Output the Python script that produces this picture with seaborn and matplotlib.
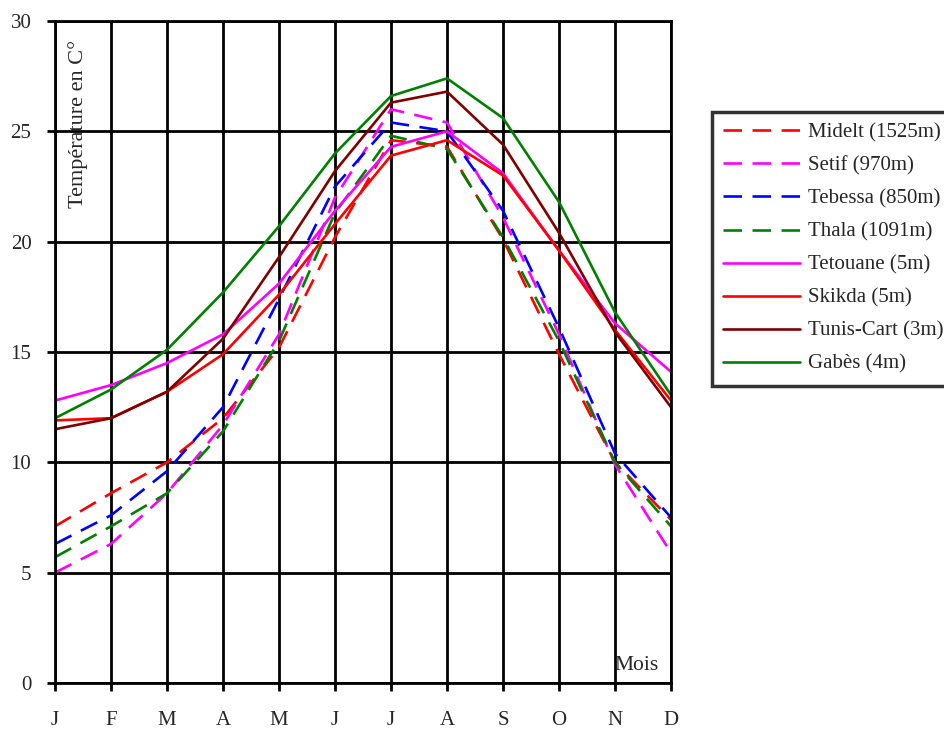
import numpy as np
import pandas as pd
import matplotlib
matplotlib.use("Agg")
import matplotlib.pyplot as plt
import seaborn as sns

months = ["J", "F", "M", "A", "M", "J", "J", "A", "S", "O", "N", "D"]

stations = ["Midelt (1525m)", "Setif (970m)", "Tebessa (850m)", "Thala (1091m)",
            "Tetouane (5m)", "Skikda (5m)", "Tunis-Cart (3m)", "Gabès (4m)"]

midelt = [7.1, 8.6, 10.0, 12.0, 15.2, 20.2, 24.6, 24.3, 20.1, 14.9, 10.0, 7.4]
setif = [5.0, 6.3, 8.6, 11.7, 15.8, 22.0, 26.0, 25.4, 21.1, 15.8, 9.9, 5.9]
tebessa = [6.3, 7.6, 9.6, 12.5, 17.4, 22.5, 25.4, 25.0, 21.4, 16.1, 10.4, 7.5]
thala = [5.7, 7.1, 8.6, 11.4, 15.5, 21.3, 24.8, 24.2, 20.2, 15.5, 10.0, 7.1]
tetouane = [12.8, 13.5, 14.5, 15.8, 18.1, 21.4, 24.3, 25.0, 23.1, 19.6, 16.3, 14.1]
skikda = [11.9, 12.0, 13.2, 14.9, 17.6, 20.8, 23.9, 24.6, 23.0, 19.6, 16.0, 12.8]
tunis = [11.5, 12.0, 13.2, 15.6, 19.3, 23.2, 26.3, 26.8, 24.4, 20.4, 15.9, 12.5]
gabes = [12.0, 13.3, 15.1, 17.7, 20.7, 24.0, 26.6, 27.4, 25.6, 21.8, 16.8, 13.05]

values = [midelt, setif, tebessa, thala, tetouane, skikda, tunis, gabes]
colors = ["#ff0000", "#ff00ff", "#0000ff", "#008000",
          "#ff00ff", "#ff0000", "#800000", "#008000"]
dashed = [True, True, True, True, False, False, False, False]

rows = []
for name, vals in zip(stations, values):
    for i, v in enumerate(vals):
        rows.append({"station": name, "mois": i, "temp": v})
df = pd.DataFrame(rows)

sns.set_style("white")
plt.rcParams['font.family'] = ['Liberation Serif', 'DejaVu Serif']

fig = plt.figure(figsize=(9.44, 7.29), dpi=100)
ax = fig.add_axes([55 / 944, 46 / 729, 616 / 944, 662 / 729])

for name, col, d in zip(stations, colors, dashed):
    sub = df[df["station"] == name]
    sns.lineplot(data=sub, x="mois", y="temp", ax=ax, color=col, lw=1.9,
                 label=name, sort=False, legend=False)
    if d:
        ax.lines[-1].set_dashes((7, 4))

ax.set_xlim(0, 11)
ax.set_ylim(0, 30)
ax.set_xticks(range(12))
ax.set_xticklabels(months)
ax.set_yticks(range(0, 31, 5))
ax.grid(True, color="black", lw=2)
ax.set_axisbelow(True)
for s in ax.spines.values():
    s.set_color("black")
    s.set_linewidth(2)
ax.tick_params(axis="both", direction="out", length=6, width=2, color="black",
               labelsize=15, bottom=True, left=True)
ax.tick_params(axis="x", pad=14)
ax.tick_params(axis="y", pad=11)
ax.set_xlabel("")
ax.set_ylabel("")

ax.text(0.037, 0.971, "Température en C°", rotation=90, transform=ax.transAxes,
        ha="center", va="top", fontsize=16)
ax.text(0.9805, 0.02, "Mois", transform=ax.transAxes, ha="right", va="baseline",
        fontsize=15.5)

leg = ax.legend(handles=ax.lines, labels=stations, loc="upper left",
                bbox_to_anchor=(711.5 / 944, 1 - 111.5 / 729),
                bbox_transform=fig.transFigure, fontsize=15, frameon=True,
                fancybox=False, edgecolor="black", handlelength=3.7,
                handletextpad=0.35, labelspacing=0.645, borderpad=0.56,
                borderaxespad=0)
leg.get_frame().set_linewidth(2.5)

fig.savefig("out.png", dpi=100)
